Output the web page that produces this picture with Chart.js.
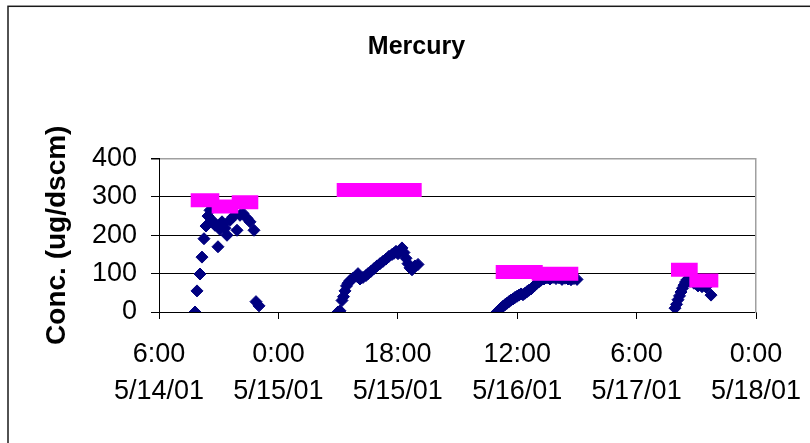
<!DOCTYPE html>
<html><head><meta charset="utf-8">
<script src="https://cdn.jsdelivr.net/npm/chart.js@4"></script>
<style>html,body{margin:0;padding:0;background:#fff;}canvas{display:block}</style>
</head><body>
<canvas id="c" width="810" height="443"></canvas>
<script>
// x values are hours since 5/14/01 0:00
const xTickLabels = [['6:00','5/14/01'],['0:00','5/15/01'],['18:00','5/15/01'],['12:00','5/16/01'],['6:00','5/17/01'],['0:00','5/18/01']];
const xTickHours = [6, 24, 42, 60, 78, 96];
const yTickValues = [0, 100, 200, 300, 400];

const hgHours = [
  11.43, 11.73, 12.18, 12.48, 12.78, 13.09, 13.39, 13.69, 13.99, 14.20, 14.44, 14.89, 15.20, 15.50, 15.65, 15.95, 16.25, 16.70, 17.16, 17.76, 18.21, 18.66, 19.27, 19.72, 20.32, 20.62, 21.08,
  32.98, 33.29, 33.59, 33.81, 34.04, 34.27, 34.49, 34.79, 35.25, 35.70, 36.00, 36.30, 36.75, 37.21, 37.51, 37.96, 38.41, 38.86, 39.32, 39.77, 40.22, 40.67, 41.13, 41.43, 41.73, 42.03, 42.33, 42.63, 42.93, 43.24, 43.54, 43.84, 44.14, 44.59, 45.05,
  56.95, 57.26, 57.56, 57.86, 58.16, 58.46, 58.76, 59.07, 59.37, 59.67, 59.97, 60.27, 60.57, 60.87, 61.18, 61.48, 61.78, 62.08, 62.38, 62.68, 62.98, 63.29, 63.59, 64.04, 64.49, 64.94, 65.40, 65.85, 66.30, 66.75, 67.21, 67.66, 68.11, 68.56, 69.02,
  83.79, 84.02, 84.24, 84.47, 84.69, 84.92, 85.15, 85.37, 85.60, 86.05, 86.65, 87.26, 87.86, 88.46, 89.22
];
const hgConc = [
  0, 55, 99, 143, 191, 224, 250, 265, 239, 232, 226, 170, 215, 235, 228, 218, 200, 239, 248, 213, 252, 257, 244, 235, 213, 27, 16,
  0, 3, 30, 40, 55, 68, 75, 82, 88, 93, 100, 86, 90, 95, 100, 106, 113, 120, 126, 132, 138, 145, 150, 153, 158, 152, 160, 167, 155, 140, 126, 115, 110, 120, 124,
  0, 5, 10, 15, 19, 23, 27, 31, 34, 38, 41, 44, 47, 45, 49, 53, 57, 60, 65, 70, 75, 79, 83, 86, 89, 86, 90, 87, 89, 85, 88, 86, 84, 87, 85,
  10, 20, 32, 42, 52, 62, 70, 78, 84, 80, 75, 68, 66, 65, 44
];

const runStart = [10.78, 13.94, 16.96, 32.79, 56.76, 62.19, 83.19, 85.95];
const runEnd   = [15.09, 17.95, 20.97, 45.60, 63.85, 69.21, 87.21, 90.32];
const runConc  = [291, 275, 286, 318, 104, 100, 110, 82];

const hgPoints = hgHours.map((h, i) => ({x: h, y: hgConc[i]}));
const runPoints = [];
runStart.forEach((s, i) => {
  runPoints.push({x: s, y: runConc[i]}, {x: runEnd[i], y: runConc[i]}, {x: runEnd[i], y: null});
});

const FONT = "'Liberation Sans', Arial, sans-serif";

const framePlugin = {
  id: 'frame',
  beforeDraw(chart) {
    const ctx = chart.ctx;
    ctx.save();
    ctx.fillStyle = '#fff';
    ctx.fillRect(0, 0, chart.width, chart.height);
    ctx.strokeStyle = '#1a1a1a';
    ctx.lineWidth = 1.5;
    ctx.strokeRect(8, 6.3, 1000, 1000);
    ctx.restore();
  }
};

new Chart(document.getElementById('c'), {
  type: 'scatter',
  data: {
    datasets: [
      {
        label: 'Run average',
        data: runPoints,
        showLine: true,
        spanGaps: false,
        borderColor: '#FF00FF',
        backgroundColor: '#FF00FF',
        borderWidth: 14,
        borderCapStyle: 'butt',
        pointRadius: 0,
        pointHoverRadius: 0
      },
      {
        label: 'Mercury',
        data: hgPoints,
        showLine: false,
        pointStyle: 'rectRot',
        pointRadius: 6,
        pointBorderWidth: 1,
        backgroundColor: '#000080',
        borderColor: '#000080'
      }
    ]
  },
  options: {
    responsive: false,
    animation: false,
    devicePixelRatio: 1,
    layout: {padding: {left: 23, right: 0, top: 0, bottom: 0}},
    plugins: {
      legend: {display: false},
      tooltip: {enabled: false},
      title: {
        display: true,
        text: 'Mercury',
        color: '#000',
        font: {family: FONT, size: 25, weight: 'bold', lineHeight: 1.2},
        padding: {top: 32, bottom: 96.5}
      }
    },
    scales: {
      x: {
        type: 'linear',
        min: 6, max: 96,
        afterBuildTicks(scale) { scale.ticks = xTickHours.map(v => ({value: v})); },
        afterFit(scale) { scale.height = 131; scale.paddingLeft = 0; scale.paddingRight = 0; },
        ticks: {
          autoSkip: false, maxRotation: 0, minRotation: 0,
          color: '#000',
          padding: 17,
          font: {family: FONT, size: 27, lineHeight: 1.36},
          callback(value) { const i = xTickHours.indexOf(value); return i >= 0 ? xTickLabels[i] : ''; }
        },
        grid: {drawOnChartArea: false, drawTicks: true, tickLength: 7, color: '#000', tickColor: '#000'},
        border: {color: '#000', width: 1}
      },
      y: {
        min: 0, max: 400,
        afterBuildTicks(scale) { scale.ticks = yTickValues.map(v => ({value: v})); },
        afterFit(scale) { scale.width = 136; scale.paddingTop = 0; scale.paddingBottom = 0; },
        ticks: {color: '#000', padding: 14, font: {family: FONT, size: 27}},
        grid: {
          drawTicks: true, tickLength: 8, tickColor: '#000',
          color: ctx => (ctx.tick && ctx.tick.value === 400) ? '#a0a0a0' : '#000',
          lineWidth: ctx => (ctx.tick && ctx.tick.value === 400) ? 1.5 : 1
        },
        border: {color: '#000', width: 1},
        title: {
          display: true,
          text: 'Conc. (ug/dscm)',
          color: '#000',
          font: {family: FONT, size: 28, weight: 'bold', lineHeight: 1.2},
          padding: {top: 17, bottom: 0}
        }
      },
      y2: {
        position: 'right',
        min: 0, max: 400,
        afterFit(scale) { scale.width = 54; },
        ticks: {display: false},
        grid: {display: false},
        border: {display: true, color: '#a0a0a0', width: 1.5}
      }
    }
  },
  plugins: [framePlugin]
});
</script>
</body></html>
